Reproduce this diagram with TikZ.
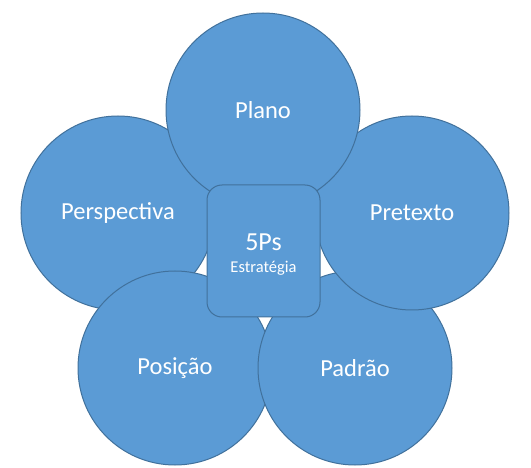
\documentclass[tikz,border=0pt]{standalone}
\usepackage{fontspec}
\setmainfont{Carlito}
\definecolor{pfill}{HTML}{5B9BD5}
\definecolor{pline}{HTML}{41719C}
\begin{document}
\begin{tikzpicture}[x=1pt,y=-1pt,
  petal/.style={circle,draw=pline,fill=pfill,line width=1pt,minimum size=194pt,inner sep=0pt,text=white,font=\fontsize{24.5}{28}\selectfont},
  hub/.style={draw=pline,fill=pfill,line width=1pt,rounded corners=15pt,minimum width=113pt,minimum height=132pt,inner sep=0pt}]
\useasboundingbox (0,0) rectangle (531,468);
\node[petal] (persp) at (118,213) {Perspectiva};
\node[petal] (posic) at (175,368) {Posição};
\node[petal] (padrao) at (355,368) {Padrão};
\node[petal] (pretex) at (412,213) {Pretexto};
\node[petal] (plano) at (263,110) {Plano};
\node[hub] (hub) at (263.5,251) {};
\node[text=white,font=\fontsize{26}{30}\selectfont] (fiveps) at (263.5,242) {5Ps};
\node[text=white,font=\fontsize{16.5}{20}\selectfont] (estr) at (263.5,268) {Estratégia};
\end{tikzpicture}
\end{document}
